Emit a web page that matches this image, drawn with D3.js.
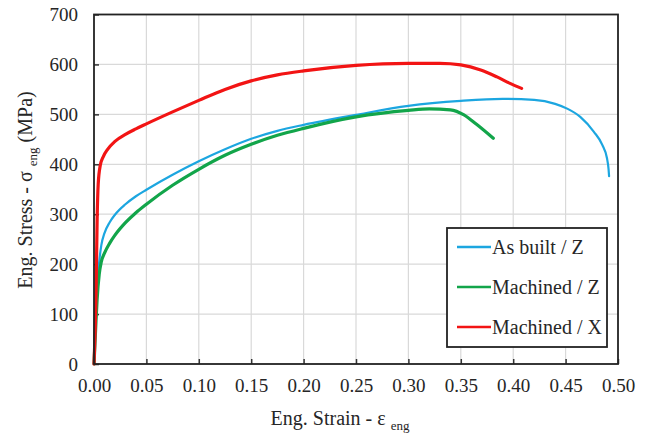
<!DOCTYPE html>
<html>
<head>
<meta charset="utf-8">
<script src="https://cdn.jsdelivr.net/npm/d3@7"></script>
<style>
  body { margin: 0; background: #fff; }
  text { font-family: "Liberation Serif", "Times New Roman", serif; fill: #262626; }
</style>
</head>
<body>
<script>
// tick values
var xTicks = [0, 0.05, 0.10, 0.15, 0.20, 0.25, 0.30, 0.35, 0.40, 0.45, 0.50];
var yTicks = [0, 100, 200, 300, 400, 500, 600, 700];

// series names + colours
var seriesNames = ["As built / Z", "Machined / Z", "Machined / X"];
var seriesColors = ["#1ca6e0", "#12a54a", "#f21414"];

// strain, stress (MPa)
var asBuiltZ = [
  [0, 0], [0.002, 100], [0.003, 150], [0.005, 205], [0.007, 238], [0.01, 262],
  [0.015, 284], [0.02, 299], [0.03, 320], [0.04, 336], [0.05, 349], [0.075, 379],
  [0.10, 406], [0.125, 430], [0.15, 451], [0.175, 467], [0.20, 479], [0.25, 499],
  [0.30, 517], [0.35, 527], [0.39, 531], [0.42, 529], [0.44, 521], [0.452, 511],
  [0.464, 495], [0.477, 465], [0.485, 439], [0.4895, 412], [0.491, 390], [0.4915, 376]
];
var machinedZ = [
  [0, 0], [0.002, 90], [0.003, 130], [0.005, 180], [0.007, 205], [0.01, 222],
  [0.015, 242], [0.02, 258], [0.03, 283], [0.04, 303], [0.05, 320], [0.075, 358],
  [0.10, 390], [0.125, 418], [0.15, 440], [0.175, 458], [0.20, 472], [0.25, 495],
  [0.30, 508], [0.32, 511], [0.34, 509], [0.353, 499], [0.365, 480], [0.381, 452]
];
var machinedX = [
  [0, 0], [0.002, 150], [0.003, 290], [0.004, 360], [0.006, 398], [0.009, 416],
  [0.013, 430], [0.02, 446], [0.03, 460], [0.04, 471], [0.05, 481], [0.075, 505],
  [0.10, 528], [0.125, 550], [0.15, 567], [0.175, 579], [0.20, 587], [0.25, 598],
  [0.30, 602], [0.33, 602], [0.35, 599], [0.369, 589], [0.3845, 575], [0.397, 562],
  [0.408, 552]
];

var allSeries = [asBuiltZ, machinedZ, machinedX];
var widths = [2.2, 3.2, 3.2];

var width = 646, height = 437;
var plotLeft = 94, plotRight = 618, plotTop = 14.5, plotBottom = 364;

var svg = d3.select("body").append("svg")
  .attr("width", width)
  .attr("height", height);

var x = d3.scaleLinear().domain([0, 0.5]).range([plotLeft, plotRight]);
var y = d3.scaleLinear().domain([0, 700]).range([plotBottom, plotTop]);

// grid
svg.append("g").selectAll("line").data(xTicks.slice(1, -1)).enter().append("line")
  .attr("x1", d => x(d)).attr("x2", d => x(d))
  .attr("y1", plotTop).attr("y2", plotBottom)
  .attr("stroke", "#d9d9d9").attr("stroke-width", 1.2);
svg.append("g").selectAll("line").data(yTicks.slice(1, -1)).enter().append("line")
  .attr("x1", plotLeft).attr("x2", plotRight)
  .attr("y1", d => y(d)).attr("y2", d => y(d))
  .attr("stroke", "#d9d9d9").attr("stroke-width", 1.2);

// axes, ticks pointing inwards
var xAxis = svg.append("g")
  .attr("transform", "translate(0," + plotBottom + ")")
  .call(d3.axisBottom(x).tickValues(xTicks).tickFormat(d3.format(".2f")).tickSizeInner(-5).tickSizeOuter(0));
var yAxis = svg.append("g")
  .attr("transform", "translate(" + plotLeft + ",0)")
  .call(d3.axisLeft(y).tickValues(yTicks).tickSizeInner(-5).tickSizeOuter(0));

xAxis.selectAll(".domain").remove();
yAxis.selectAll(".domain").remove();
xAxis.selectAll("line").attr("stroke", "#333").attr("stroke-width", 1.5);
yAxis.selectAll("line").attr("stroke", "#333").attr("stroke-width", 1.5);
xAxis.selectAll("text").attr("y", 15).attr("dy", "0.71em").style("font-size", "19px").attr("font-family", null);
yAxis.selectAll("text").attr("x", -16).style("font-size", "19px").attr("font-family", null);

// curves
var line = d3.line()
  .x(d => x(d[0]))
  .y(d => y(d[1]))
  .curve(d3.curveMonotoneX);

allSeries.forEach(function(s, i) {
  svg.append("path")
    .datum(s)
    .attr("d", line)
    .attr("fill", "none")
    .attr("stroke", seriesColors[i])
    .attr("stroke-width", widths[i])
    .attr("stroke-linejoin", "round")
    .attr("stroke-linecap", "round");
});

// plot frame
svg.append("rect")
  .attr("x", plotLeft).attr("y", plotTop)
  .attr("width", plotRight - plotLeft).attr("height", plotBottom - plotTop)
  .attr("fill", "none").attr("stroke", "#222").attr("stroke-width", 1.8);

// legend
var legend = svg.append("g");
legend.append("rect")
  .attr("x", 447).attr("y", 228)
  .attr("width", 160).attr("height", 119)
  .attr("fill", "#fff").attr("stroke", "#222").attr("stroke-width", 1.8);
seriesNames.forEach(function(name, i) {
  var ly = 247 + i * 40;
  legend.append("line")
    .attr("x1", 457).attr("x2", 491)
    .attr("y1", ly).attr("y2", ly)
    .attr("stroke", seriesColors[i]).attr("stroke-width", 2.4);
  legend.append("text")
    .attr("x", 492).attr("y", ly + 7)
    .style("font-size", "20px")
    .text(name);
});

// axis titles
var xt = svg.append("text")
  .attr("x", 340).attr("y", 425)
  .attr("text-anchor", "middle")
  .style("font-size", "20px");
xt.append("tspan").text("Eng. Strain - \u03b5 ");
xt.append("tspan").attr("dy", 5).style("font-size", "13px").text("eng");

var yt = svg.append("text")
  .attr("transform", "translate(32,190) rotate(-90)")
  .attr("text-anchor", "middle")
  .style("font-size", "20px");
yt.append("tspan").text("Eng. Stress - \u03c3 ");
yt.append("tspan").attr("dy", 5).style("font-size", "13px").text("eng");
yt.append("tspan").attr("dy", -5).text(" (MPa)");
</script>
</body>
</html>
